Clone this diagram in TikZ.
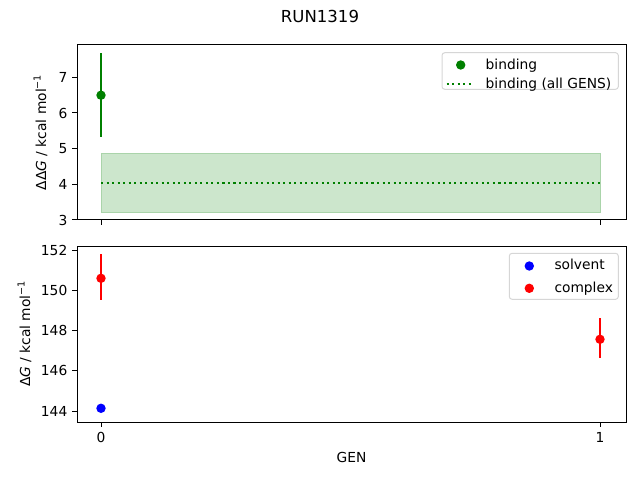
\documentclass[tikz,border=0pt]{standalone}
\usepackage{fontspec}
\setmainfont{DejaVu Sans}
\definecolor{mplgreen}{RGB}{0,128,0}
\definecolor{mplred}{RGB}{255,0,0}
\definecolor{mplblue}{RGB}{0,0,255}
\definecolor{bandedge}{RGB}{170,212,170}
\newcommand{\supmone}{\raisebox{5.6bp}{\fontsize{9.7}{10}\selectfont −1}}
\begin{document}
\begin{tikzpicture}[x=1bp,y=-1bp,
  spine/.style={line width=1bp, black, line cap=rect},
  tk/.style={line width=1bp, black},
  lbl/.style={font=\fontsize{13.85}{16}\selectfont, inner sep=0pt},
  ebar/.style={line width=2.08bp},
  dotm/.style={circle, inner sep=0pt, minimum size=9.4bp},
  legbox/.style={draw=black!16, fill=white, fill opacity=0.8, rounded corners=2.78bp, line width=1bp},
  band/.style={fill=mplgreen, fill opacity=0.2},
  dotline/.style={mplgreen, line width=2.08bp, dash pattern=on 2.08bp off 3.44bp}
]
\useasboundingbox (0,0) rectangle (640,480);
% title
\node[lbl, font=\fontsize{16.6}{19}\selectfont] (title) at (320,16.5) {RUN1319};

% ---------- top axes ----------
\fill[band] (101,153.3) rectangle (600,212.7);
\draw[bandedge, line width=0.9bp] (101,153.3) rectangle (600,212.7);
\draw[dotline] (101,182.7) -- (600,182.7);
\draw[ebar, mplgreen] (101,53.3) -- (101,137.3);
\node[dotm, fill=mplgreen] (g0) at (101,95.2) {};
\draw[spine] (77,45) rectangle (626,220);
% y ticks
\foreach \v/\y in {3/220,4/184.3,5/148.6,6/113,7/77.3}{
  \draw[tk] (77,\y) -- (72.1,\y);
  \node[lbl, anchor=east] (ty\v) at (67.5,\y) {\v};
}
\foreach \x in {101,600}{ \draw[tk] (\x,220) -- (\x,224.9); }
\node[lbl, rotate=90] (ylabtop) at (40.5,132.5) {ΔΔ\textit{G} / kcal mol\supmone};
% legend top
\draw[legbox] (442,52.7) rectangle (618.3,89.3);
\node[dotm, fill=mplgreen] (lg1) at (460.7,65) {};
\draw[dotline] (446.7,84.2) -- (471,84.2);
\node[lbl, anchor=base west] (lt1) at (485.5,69.2) {binding};
\node[lbl, anchor=base west] (lt2) at (485.5,88.6) {binding (all GENS)};

% ---------- bottom axes ----------
\draw[ebar, mplred] (101,254.3) -- (101,300.3);
\node[dotm, fill=mplred] (r0) at (101,278.3) {};
\draw[ebar, mplred] (600,318.3) -- (600,358.3);
\node[dotm, fill=mplred] (r1) at (600,339.3) {};
\draw[ebar, mplblue] (101,404.4) -- (101,412.2);
\node[dotm, fill=mplblue] (b0) at (101,408.3) {};
\draw[spine] (77,246) rectangle (626,422);
\foreach \v/\y in {144/411,146/370.75,148/330.5,150/290.25,152/250}{
  \draw[tk] (77,\y) -- (72.1,\y);
  \node[lbl, anchor=east] (by\v) at (67.5,\y) {\v};
}
\foreach \x/\t in {101/0,600/1}{
  \draw[tk] (\x,422) -- (\x,426.9);
  \node[lbl] (bx\t) at (\x,437) {\t};
}
\node[lbl] (xlab) at (351.5,457.3) {GEN};
\node[lbl, rotate=90] (ylabbot) at (24.5,334) {Δ\textit{G} / kcal mol\supmone};
% legend bottom
\draw[legbox] (509.3,253.3) rectangle (618.3,299.3);
\node[dotm, fill=mplblue] (lb1) at (529.3,266) {};
\node[dotm, fill=mplred] (lb2) at (529.3,288.3) {};
\node[lbl, anchor=base west] (ls1) at (554.3,269.8) {solvent};
\node[lbl, anchor=base west] (ls2) at (554.3,292.1) {complex};
\end{tikzpicture}
\end{document}
